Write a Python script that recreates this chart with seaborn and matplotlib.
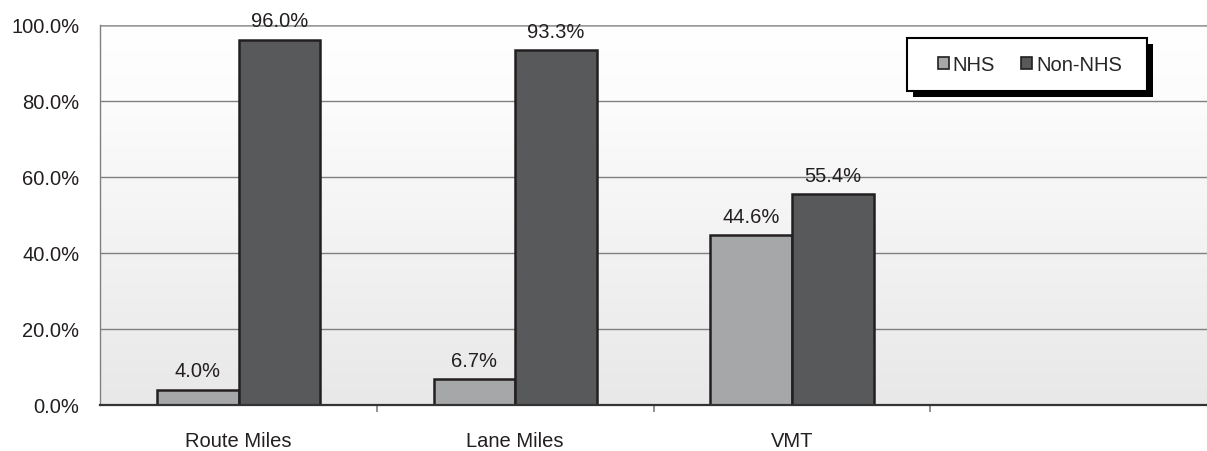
import numpy as np
import pandas as pd
import matplotlib
matplotlib.use("Agg")
import matplotlib.pyplot as plt
import seaborn as sns
from matplotlib.colors import LinearSegmentedColormap
from matplotlib.patches import Rectangle

categories = ["Route Miles", "Lane Miles", "VMT"]
nhs_values = [4.0, 6.7, 44.6]
non_nhs_values = [96.0, 93.3, 55.4]
series_names = ["NHS", "Non-NHS"]
y_ticks = [0, 20, 40, 60, 80, 100]

df = pd.DataFrame({
    "category": categories * 2,
    "share": nhs_values + non_nhs_values,
    "series": [series_names[0]] * len(categories) + [series_names[1]] * len(categories),
})

sns.set_theme(style="white")
plt.rcParams["font.family"] = ["Liberation Sans", "DejaVu Sans"]

FS = 14.5
W, H = 1207, 452

fig = plt.figure(figsize=(W / 100, H / 100), dpi=100)
ax = fig.add_axes([0.083, 0.102, 0.917, 0.841])

# an empty fourth slot on the right of the category axis
order = categories + [" "]
palette = {"NHS": "#a6a7a9", "Non-NHS": "#58595b"}
sns.barplot(data=df, x="category", y="share", hue="series", order=order,
            hue_order=series_names, palette=palette, width=0.59,
            edgecolor="#231f20", linewidth=1.8, saturation=1, ax=ax, zorder=3)

for cont in ax.containers:
    ax.bar_label(cont, fmt="%.1f%%", padding=7, fontsize=FS, color="#231f20")

ax.set_xlim(-0.5, 3.5)
ax.set_ylim(0, 100)

# soft vertical gradient behind the bars
cmap = LinearSegmentedColormap.from_list("bg", [(0, "#e8e8e8"), (0.8, "#fcfcfc"), (1, "#ffffff")])
grad = np.linspace(0, 1, 256).reshape(-1, 1)
ax.imshow(grad, extent=(-0.5, 3.5, 0, 100), origin="lower", aspect="auto",
          cmap=cmap, zorder=0)

ax.set_yticks(y_ticks)
ax.set_yticklabels([f"{v:.1f}%" for v in y_ticks], fontsize=FS, color="#231f20")
ax.set_xticks(range(len(order)))
ax.set_xticklabels(order, fontsize=FS, color="#231f20")
ax.set_xticks(np.arange(0.5, 3.5, 1.0), minor=True)
ax.tick_params(axis="x", which="major", bottom=True, length=0, pad=19)
ax.tick_params(axis="x", which="minor", bottom=True, length=5, width=1.2,
               color="#808080", direction="out")
ax.tick_params(axis="y", length=0, pad=15)

for v in y_ticks[1:]:
    ax.axhline(v, color="#808080" if v < 100 else "#9a9a9a", lw=1.0 if v < 100 else 1.8, zorder=1)

ax.set_xlabel("")
ax.set_ylabel("")
ax.spines["top"].set_visible(False)
ax.spines["right"].set_visible(False)
ax.spines["left"].set_color("#808080")
ax.spines["left"].set_linewidth(1.0)
ax.spines["bottom"].set_color("#333333")
ax.spines["bottom"].set_linewidth(1.6)
ax.spines["bottom"].set_zorder(4)

# legend box with a hard drop shadow
bx0, by0, bw, bh = 907, 39, 240, 53
fig.patches.append(Rectangle(((bx0 + 6) / W, 1 - (by0 + bh + 6) / H), bw / W, bh / H,
                             transform=fig.transFigure, facecolor="black",
                             edgecolor="none", zorder=6))
fig.patches.append(Rectangle((bx0 / W, 1 - (by0 + bh) / H), bw / W, bh / H,
                             transform=fig.transFigure, facecolor="white",
                             edgecolor="black", linewidth=1.5, zorder=7))

leg = ax.legend(loc="center", bbox_to_anchor=((bx0 + bw / 2 + 3) / W, 1 - (by0 + bh / 2) / H),
                bbox_transform=fig.transFigure, ncol=2, frameon=False,
                fontsize=FS, handlelength=0.55, handleheight=0.55, handletextpad=0.2,
                columnspacing=1.3, borderpad=0, borderaxespad=0)
for h in leg.legend_handles:
    h.set_linewidth(1.2)
    h.set_edgecolor("#231f20")
leg.remove()
fig.add_artist(leg)
leg.set_zorder(8)

fig.savefig("out.png", dpi=100)
